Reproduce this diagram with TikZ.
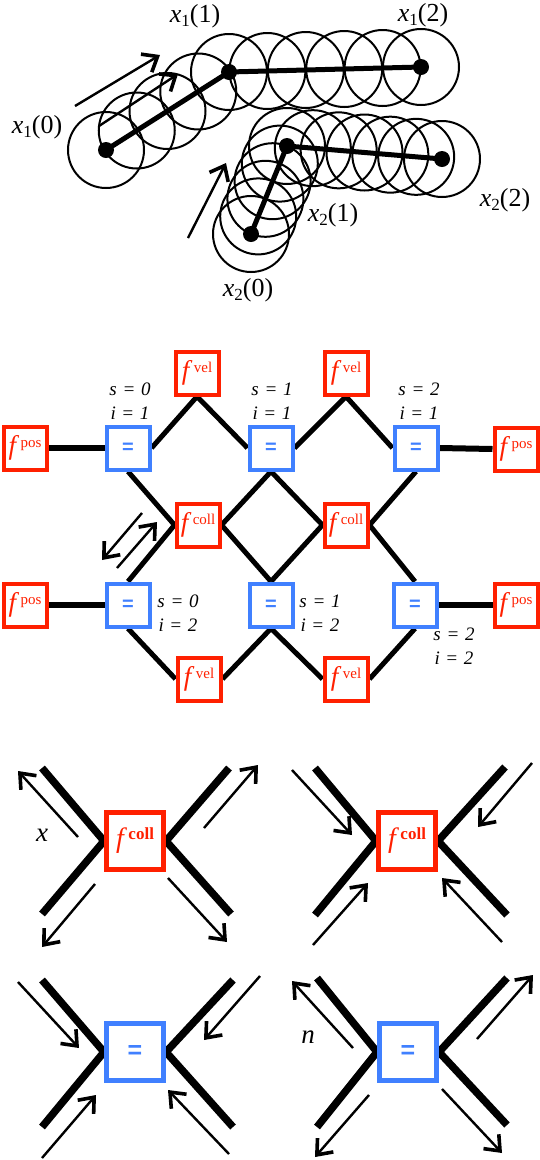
\documentclass[tikz,border=0pt]{standalone}
\usepackage{fontspec}
\setmainfont{Liberation Serif}
\newfontfamily\eqfont{Liberation Sans}
\usetikzlibrary{arrows.meta,calc}
\definecolor{fred}{RGB}{255,32,0}
\definecolor{fblue}{RGB}{64,128,255}
\pgfdeclarelayer{bg}
\pgfsetlayers{bg,main}
\newcommand{\fmid}[1]{{\fontsize{27}{27}\selectfont\itshape f\,}\raisebox{7pt}{\fontsize{15}{15}\selectfont #1}}
\newcommand{\fbig}{{\fontsize{28}{28}\selectfont\itshape f\,}\raisebox{8pt}{\fontsize{17}{17}\selectfont\bfseries coll}}
\newcommand{\eqm}{{\eqfont\bfseries\fontsize{20}{20}\selectfont =}}
\newcommand{\eqb}{{\eqfont\bfseries\fontsize{25}{25}\selectfont =}}
\newcommand{\xl}[2]{\textit{x}\raisebox{-4pt}{\fontsize{17}{17}\selectfont #1}(#2)}
\newcommand{\sieq}[2]{#1\hspace{0.3em}=\hspace{0.3em}#2}
\begin{document}
\begin{tikzpicture}[x=1pt,y=-1pt,
  fbox/.style={draw=fred,text=fred,line width=4pt,minimum size=43pt,inner sep=0pt,fill=white},
  ebox/.style={draw=fblue,text=fblue,line width=4pt,minimum size=43pt,inner sep=0pt,fill=white},
  fboxb/.style={fbox,line width=5pt,minimum size=57pt},
  eboxb/.style={ebox,line width=5pt,minimum size=57pt},
  wire/.style={line width=5pt},
  hwire/.style={line width=6pt},
  bigwire/.style={line width=7.5pt},
  arr/.style={line width=2.4pt,-{Straight Barb[length=13pt,width=21pt,line width=3.6pt]}},
  circ/.style={line width=2pt},
  link/.style={line width=5pt},
  dot/.style={circle,fill=black,minimum size=16pt,inner sep=0pt},
  lab/.style={font=\fontsize{26}{26}\selectfont},
  silab/.style={font=\fontsize{19}{24}\selectfont\itshape,align=center},
  vlab/.style={font=\fontsize{27}{27}\selectfont\itshape}
]
\useasboundingbox (0,0) rectangle (540,1160);

% ---------------- top: trajectories ----------------
\coordinate (a0) at (106,150);
\coordinate (a1) at (229,72);
\coordinate (a2) at (421,67);
\coordinate (b0) at (251,234);
\coordinate (b1) at (287,146);
\coordinate (b2) at (442,159);
\foreach \k in {0,...,4} \draw[circ] ($(a0)!{\k/4}!(a1)$) circle[radius=38pt];
\foreach \k in {1,...,5} \draw[circ] ($(a1)!{\k/5}!(a2)$) circle[radius=38pt];
\foreach \k in {0,...,5} \draw[circ] ($(b0)!{\k/5}!(b1)$) circle[radius=38pt];
\foreach \k in {1,...,6} \draw[circ] ($(b1)!{\k/6}!(b2)$) circle[radius=38pt];
\draw[link] (a0) -- (a1) -- (a2);
\draw[link] (b0) -- (b1) -- (b2);
\node[dot] (da0) at (a0) {};
\node[dot] (da1) at (a1) {};
\node[dot] (da2) at (a2) {};
\node[dot] (db0) at (b0) {};
\node[dot] (db1) at (b1) {};
\node[dot] (db2) at (b2) {};
\node[lab] (la0) at (37,127) {\xl{1}{0}};
\node[lab] (la1) at (195,16) {\xl{1}{1}};
\node[lab] (la2) at (423,15) {\xl{1}{2}};
\node[lab] (lb0) at (248,290) {\xl{2}{0}};
\node[lab] (lb1) at (333,215) {\xl{2}{1}};
\node[lab] (lb2) at (505,200) {\xl{2}{2}};
\coordinate (t1s) at (75,106);  \coordinate (t1e) at (160,55);
\coordinate (t2s) at (99,126);  \coordinate (t2e) at (178,74);
\coordinate (t3s) at (188,238); \coordinate (t3e) at (226,163);
\draw[arr] (t1s) -- (t1e);
\draw[arr] (t2s) -- (t2e);
\draw[arr] (t3s) -- (t3e);

% ---------------- middle: factor graph ----------------
\node[fbox] (pl1) at (25,448) {\fmid{pos}};
\node[ebox] (e11) at (128,448) {\eqm};
\node[fbox] (v1)  at (197,373) {\fmid{vel}};
\node[ebox] (e21) at (271,448) {\eqm};
\node[fbox] (v2)  at (346,373) {\fmid{vel}};
\node[ebox] (e31) at (416,448) {\eqm};
\node[fbox] (pr1) at (516,449) {\fmid{pos}};
\node[fbox] (c1)  at (198,525) {\fmid{coll}};
\node[fbox] (c2)  at (346,525) {\fmid{coll}};
\node[fbox] (pl2) at (25,605) {\fmid{pos}};
\node[ebox] (e12) at (128,605) {\eqm};
\node[ebox] (e22) at (271,605) {\eqm};
\node[ebox] (e32) at (415,605) {\eqm};
\node[fbox] (pr2) at (516,605) {\fmid{pos}};
\node[fbox] (w1)  at (199,679) {\fmid{vel}};
\node[fbox] (w2)  at (346,679) {\fmid{vel}};
\begin{pgfonlayer}{bg}
\draw[hwire] (pl1.east) -- (e11.west);
\draw[hwire] (e31.east) -- (pr1.west);
\draw[hwire] (pl2.east) -- (e12.west);
\draw[hwire] (e32.east) -- (pr2.west);
\draw[wire] (e11.east) -- (v1.south) -- (e21.west);
\draw[wire] (e21.east) -- (v2.south) -- (e31.west);
\draw[wire] (e11.south) -- (c1.west) -- (e12.north);
\draw[wire] (e21.south) -- (c1.east) -- (e22.north);
\draw[wire] (e21.south) -- (c2.west) -- (e22.north);
\draw[wire] (e31.south) -- (c2.east) -- (e32.north);
\draw[wire] (e12.south) -- (w1.west);
\draw[wire] (e22.south) -- (w1.east);
\draw[wire] (e22.south) -- (w2.west);
\draw[wire] (e32.south) -- (w2.east);
\end{pgfonlayer}
\node[silab] (s11) at (130,401) {\sieq{s}{0}\\\sieq{i}{1}};
\node[silab] (s21) at (272,401) {\sieq{s}{1}\\\sieq{i}{1}};
\node[silab] (s31) at (419,401) {\sieq{s}{2}\\\sieq{i}{1}};
\node[silab] (s12) at (178,613) {\sieq{s}{0}\\\sieq{i}{2}};
\node[silab] (s22) at (320,613) {\sieq{s}{1}\\\sieq{i}{2}};
\node[silab] (s32) at (454,646) {\sieq{s}{2}\\\sieq{i}{2}};
\coordinate (m1s) at (142,513); \coordinate (m1e) at (102,560);
\coordinate (m2s) at (117,568); \coordinate (m2e) at (157,522);
\draw[arr] (m1s) -- (m1e);
\draw[arr] (m2s) -- (m2e);

% ---------------- bottom: message rules ----------------
% f coll, outgoing
\node[fboxb] (C1) at (135,841) {\fbig};
\coordinate (c1ul) at (42,768);  \coordinate (c1ll) at (42,914);
\coordinate (c1ur) at (229,768); \coordinate (c1lr) at (231,914);
\begin{pgfonlayer}{bg}
\draw[bigwire] (c1ul) -- (C1.west) -- (c1ll);
\draw[bigwire] (c1ur) -- (C1.east) -- (c1lr);
\end{pgfonlayer}
\coordinate (p1a) at (78,837);  \coordinate (q1a) at (18,771);
\coordinate (p1b) at (204,828); \coordinate (q1b) at (258,765);
\coordinate (p1c) at (95,884);  \coordinate (q1c) at (42,947);
\coordinate (p1d) at (168,878); \coordinate (q1d) at (227,942);
\draw[arr] (p1a) -- (q1a);
\draw[arr] (p1b) -- (q1b);
\draw[arr] (p1c) -- (q1c);
\draw[arr] (p1d) -- (q1d);
\node[vlab] (lx) at (42,835) {x};

% f coll, incoming
\node[fboxb] (C2) at (407,841) {\fbig};
\coordinate (c2ul) at (315,768); \coordinate (c2ll) at (315,915);
\coordinate (c2ur) at (505,767); \coordinate (c2lr) at (507,915);
\begin{pgfonlayer}{bg}
\draw[bigwire] (c2ul) -- (C2.west) -- (c2ll);
\draw[bigwire] (c2ur) -- (C2.east) -- (c2lr);
\end{pgfonlayer}
\coordinate (p2a) at (292,770); \coordinate (q2a) at (352,835);
\coordinate (p2b) at (532,763); \coordinate (q2b) at (478,827);
\coordinate (p2c) at (313,945); \coordinate (q2c) at (368,883);
\coordinate (p2d) at (502,942); \coordinate (q2d) at (442,878);
\draw[arr] (p2a) -- (q2a);
\draw[arr] (p2b) -- (q2b);
\draw[arr] (p2c) -- (q2c);
\draw[arr] (p2d) -- (q2d);

% equality, incoming
\node[eboxb] (E1) at (135,1052) {\eqb};
\coordinate (e1ul) at (42,980);  \coordinate (e1ll) at (42,1127);
\coordinate (e1ur) at (233,980); \coordinate (e1lr) at (233,1127);
\begin{pgfonlayer}{bg}
\draw[bigwire] (e1ul) -- (E1.west) -- (e1ll);
\draw[bigwire] (e1ur) -- (E1.east) -- (e1lr);
\end{pgfonlayer}
\coordinate (p3a) at (18,982);   \coordinate (q3a) at (79,1048);
\coordinate (p3b) at (260,976);  \coordinate (q3b) at (204,1040);
\coordinate (p3c) at (42,1158);  \coordinate (q3c) at (96,1095);
\coordinate (p3d) at (229,1154); \coordinate (q3d) at (168,1090);
\draw[arr] (p3a) -- (q3a);
\draw[arr] (p3b) -- (q3b);
\draw[arr] (p3c) -- (q3c);
\draw[arr] (p3d) -- (q3d);

% equality, outgoing
\node[eboxb] (E2) at (408,1052) {\eqb};
\coordinate (e2ul) at (317,978); \coordinate (e2ll) at (317,1127);
\coordinate (e2ur) at (507,978); \coordinate (e2lr) at (507,1125);
\begin{pgfonlayer}{bg}
\draw[bigwire] (e2ul) -- (E2.west) -- (e2ll);
\draw[bigwire] (e2ur) -- (E2.east) -- (e2lr);
\end{pgfonlayer}
\coordinate (p4a) at (353,1048); \coordinate (q4a) at (292,981);
\coordinate (p4b) at (477,1039); \coordinate (q4b) at (533,975);
\coordinate (p4c) at (369,1095); \coordinate (q4c) at (315,1157);
\coordinate (p4d) at (442,1089); \coordinate (q4d) at (502,1153);
\draw[arr] (p4a) -- (q4a);
\draw[arr] (p4b) -- (q4b);
\draw[arr] (p4c) -- (q4c);
\draw[arr] (p4d) -- (q4d);
\node[vlab] (ln) at (308,1037) {n};
\end{tikzpicture}
\end{document}
